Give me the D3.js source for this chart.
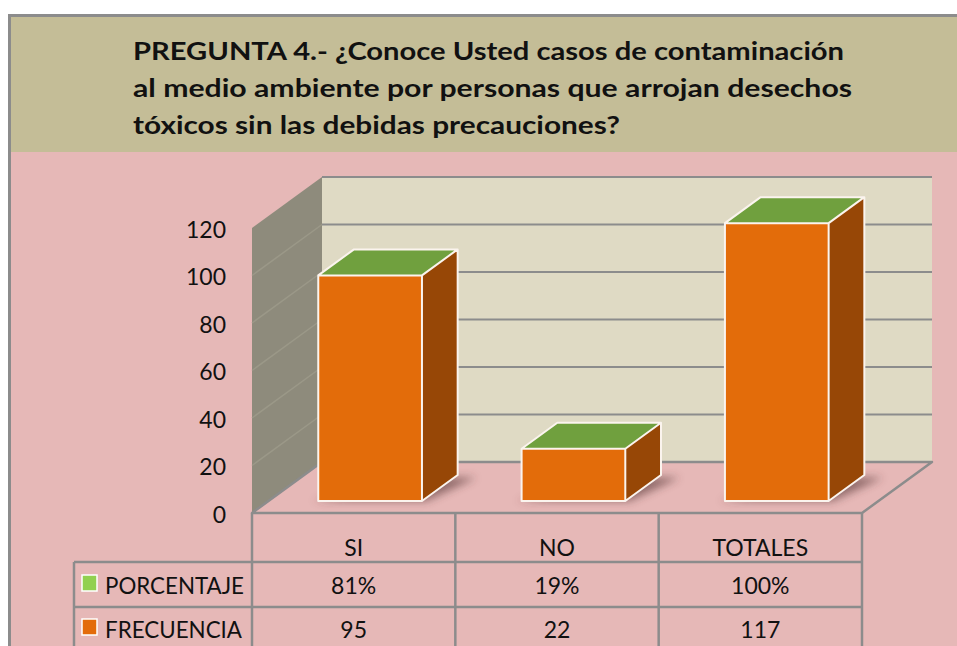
<html>
  <head>
    <meta charset="utf-8">
    <title>Pregunta 4</title>
    <style>
      body {
          margin: 0;
          background: #fff;
      }
      svg text {
          font-family: Lato, "Liberation Sans", sans-serif;
          fill: #111;
      }
      .title {
          font-weight: bold;
          font-size: 25px;
      }
      .axis text {
          font-size: 23px;
      }
      .cell {
          font-size: 23px;
          text-anchor: middle;
      }
    </style>
  </head>
  <body>
    <svg id="chart" width="957" height="646"></svg>
    <script src="https://cdn.jsdelivr.net/npm/d3@7"></script>
    <script type="text/javascript">
// data
var titleLines = [
  "PREGUNTA 4.- ¿Conoce Usted casos de contaminación",
  "al medio ambiente por personas que arrojan desechos",
  "tóxicos sin las debidas precauciones?"
];
var categories = ["SI", "NO", "TOTALES"];
var frecuencia = [95, 22, 117];
var porcentaje = [81, 19, 100];
var seriesNames = ["PORCENTAJE", "FRECUENCIA"];
var seriesColours = ["#92D050", "#E36C0A"];
var yTicks = [0, 20, 40, 60, 80, 100, 120];

// layout of the fake 3d box
var floorLeft = 252, floorRight = 862, floorY = 513;
var depthX = 70, depthY = -51;
var barDepth = [0.235, 0.745];  // bars sit in the middle of the floor depth

var svg = d3.select("#chart");

var defs = svg.append("defs");
defs.append("filter").attr("id", "shadow")
    .attr("x", "-50%").attr("y", "-50%").attr("width", "200%").attr("height", "200%")
  .append("feGaussianBlur").attr("stdDeviation", 4);

// background: title band and pink plot area, grey frame on top and left
svg.append("rect")
    .attr("x", 9).attr("y", 152).attr("width", 948).attr("height", 494)
    .style("fill", "#E6B8B7");
svg.append("rect")
    .attr("x", 9).attr("y", 15).attr("width", 948).attr("height", 137)
    .style("fill", "#C4BD97");
svg.append("path")
    .attr("d", "M9.5,646V15.5H957")
    .style("fill", "none").style("stroke", "#8c8c8c").style("stroke-width", 3);

svg.append("g").selectAll("text")
    .data(titleLines)
  .enter().append("text")
    .attr("class", "title")
    .attr("x", 133)
    .attr("y", (d, i) => 60 + i * 37)
    .attr("textLength", (d, i) => [711, 719, 487][i])
    .attr("lengthAdjust", "spacingAndGlyphs")
    .text(d => d);

var y = d3.scaleLinear()
    .domain([0, 120])
    .range([floorY, 228]);

var x = d3.scaleBand()
    .domain(categories)
    .range([floorLeft, floorRight])
    .paddingInner(0.49)
    .paddingOuter(0.245);

var cols = d3.scaleBand()
    .domain(categories)
    .range([floorLeft, floorRight]);

function pt(px, py, d) {
  return [px + d * depthX, py + d * depthY];
}

// walls
var wall = svg.append("g");
wall.append("polygon")
    .attr("points", [pt(floorLeft, y(0), 0), pt(floorLeft, y(120), 0),
                     pt(floorLeft, y(120), 1), pt(floorLeft, y(0), 1)].join(" "))
    .style("fill", "#8E8B7C");
wall.append("rect")
    .attr("x", floorLeft + depthX)
    .attr("y", y(120) + depthY)
    .attr("width", floorRight - floorLeft)
    .attr("height", y(0) - y(120))
    .style("fill", "#DFDAC4");

// gridlines on the back wall and the side wall
wall.selectAll(".grid")
    .data(yTicks.filter(v => v > 0))
  .enter().append("line")
    .attr("class", "grid")
    .attr("x1", floorLeft + depthX)
    .attr("x2", floorRight + depthX)
    .attr("y1", d => y(d) + depthY)
    .attr("y2", d => y(d) + depthY)
    .style("stroke", "#8c8c8c").style("stroke-width", 2);
wall.selectAll(".sidegrid")
    .data(yTicks.filter(v => v > 0 && v < 120))
  .enter().append("line")
    .attr("class", "sidegrid")
    .attr("x1", floorLeft).attr("y1", d => y(d))
    .attr("x2", floorLeft + depthX).attr("y2", d => y(d) + depthY)
    .style("stroke", "#9b9888").style("stroke-width", 1.5);

// floor
wall.append("polygon")
    .attr("points", [pt(floorLeft, floorY, 0), pt(floorLeft, floorY, 1),
                     pt(floorRight, floorY, 1), pt(floorRight, floorY, 0)].join(" "))
    .style("fill", "#E6B8B7")
    .style("stroke", "#8c8c8c").style("stroke-width", 2.5)
    .style("stroke-linejoin", "round");

// y axis labels
var axis = svg.append("g")
    .attr("class", "axis")
    .attr("transform", "translate(226,2)")
    .call(d3.axisLeft(y).tickValues(yTicks).tickSize(0).tickPadding(0));
axis.select(".domain").remove();
axis.selectAll("text").style("fill", "#111");

// bars
var bars = svg.append("g").selectAll(".bar")
    .data(categories.map((c, i) => ({cat: c, f: frecuencia[i], p: porcentaje[i]})))
  .enter().append("g")
    .attr("class", "bar");

bars.each(function(d) {
  var g = d3.select(this);
  var x0 = x(d.cat), x1 = x(d.cat) + x.bandwidth();
  var yb = y(0), yt = y(d.f);
  var a = barDepth[0], b = barDepth[1];

  g.append("polygon")
      .attr("points", [pt(x0 - 6, yb, a), pt(x1 + 4, yb, a),
                       pt(x1 + 22, yb, b - 0.05), pt(x1 - 10, yb, b - 0.05)].join(" "))
      .style("fill", "#4a2a2a").style("opacity", 0.55)
      .attr("filter", "url(#shadow)");
  g.append("polygon")
      .attr("points", [pt(x1, yb, a), pt(x1, yb, b), pt(x1, yt, b), pt(x1, yt, a)].join(" "))
      .style("fill", "#974706");
  g.append("polygon")
      .attr("points", [pt(x0, yt, a), pt(x0, yt, b), pt(x1, yt, b), pt(x1, yt, a)].join(" "))
      .style("fill", "#70A03E");
  g.append("rect")
      .attr("x", x0 + a * depthX)
      .attr("y", yt + a * depthY)
      .attr("width", x.bandwidth())
      .attr("height", yb - yt)
      .style("fill", "#E36C0A");
  // white edges
  g.append("path")
      .attr("d", "M" + pt(x0, yb, a) + "L" + pt(x0, yt, a) + "L" + pt(x0, yt, b) +
                 "L" + pt(x1, yt, b) + "L" + pt(x1, yb, b) + "L" + pt(x1, yb, a) + "Z" +
                 "M" + pt(x0, yt, a) + "L" + pt(x1, yt, a) + "L" + pt(x1, yt, b) +
                 "M" + pt(x1, yt, a) + "L" + pt(x1, yb, a))
      .style("fill", "none")
      .style("stroke", "#fbf4ee").style("stroke-width", 2)
      .style("stroke-linejoin", "round");
});

// data table under the floor
var rowY = [floorY, 562, 607, 652];
var table = svg.append("g")
    .style("stroke", "#8c8c8c").style("stroke-width", 2.5);
table.selectAll(".vline")
    .data(categories.concat([null]))
  .enter().append("line")
    .attr("x1", (d, i) => floorLeft + i * cols.bandwidth())
    .attr("x2", (d, i) => floorLeft + i * cols.bandwidth())
    .attr("y1", floorY).attr("y2", 646);
table.selectAll(".hline")
    .data(rowY.slice(1, 3))
  .enter().append("line")
    .attr("x1", 74).attr("x2", floorRight)
    .attr("y1", d => d).attr("y2", d => d);
table.append("line")
    .attr("x1", 74).attr("x2", 74)
    .attr("y1", rowY[1]).attr("y2", 646);

svg.append("g").selectAll("text")
    .data(categories)
  .enter().append("text")
    .attr("class", "cell")
    .attr("x", d => cols(d) + cols.bandwidth() / 2)
    .attr("y", 556)
    .text(d => d);

var rows = [porcentaje.map(v => v + "%"), frecuencia];
rows.forEach((vals, r) => {
  svg.append("g").selectAll("text")
      .data(vals)
    .enter().append("text")
      .attr("class", "cell")
      .attr("x", (d, i) => cols(categories[i]) + cols.bandwidth() / 2)
      .attr("y", 594 + r * 44)
      .text(d => d);
});

// legend keys in the table
var legend = svg.append("g").selectAll("g")
    .data(seriesNames)
  .enter().append("g")
    .attr("transform", (d, i) => "translate(0," + (i * 44) + ")");
legend.append("rect")
    .attr("x", 82).attr("y", 575)
    .attr("width", 15).attr("height", 16)
    .style("fill", (d, i) => seriesColours[i])
    .style("stroke", "#fff").style("stroke-width", 1.5);
legend.append("text")
    .attr("class", "cell")
    .style("text-anchor", "start")
    .attr("x", 105).attr("y", 594)
    .attr("textLength", (d, i) => [139, 137][i])
    .attr("lengthAdjust", "spacingAndGlyphs")
    .text(d => d);
    </script>
  </body>
</html>
